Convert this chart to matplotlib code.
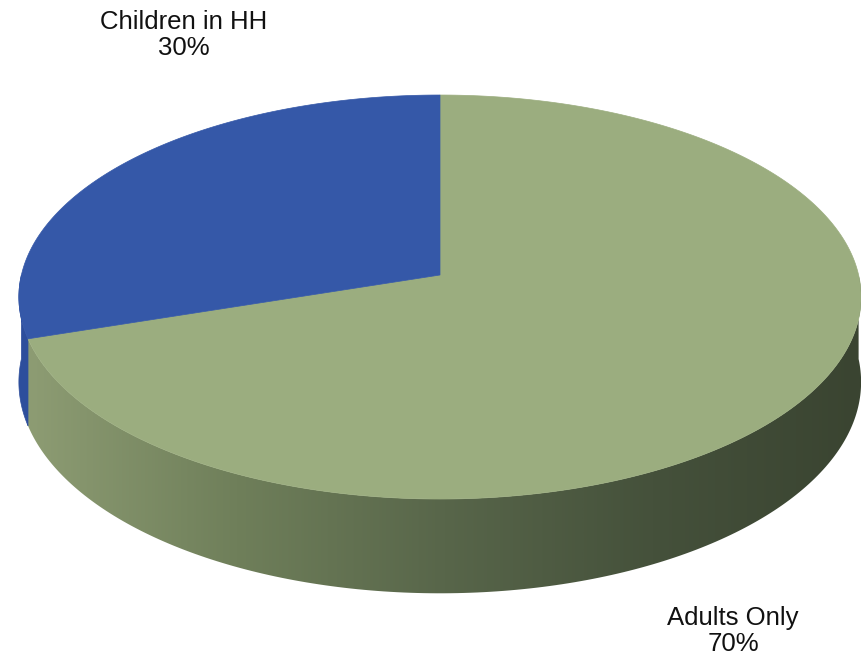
"""Camembert 3D façon Excel : ménages avec / sans enfants."""

import numpy as np
import matplotlib.pyplot as plt
from matplotlib.patches import Polygon
from matplotlib.colors import LinearSegmentedColormap

# Données (ordre Excel : départ à midi, sens horaire)
categories = ["Adults Only", "Children in HH"]
values = [70, 30]

COULEURS_DESSUS = ["#9bad7f", "#3558a8"]
COULEUR_COTE_BLEU = "#2d4e9c"
DEGRADE_VERT = ["#8d9c73", "#6f7f5a", "#58664a", "#45513b", "#3a4431"]

# Projection en perspective du disque (pixels)
CX, CY = 440, 275
SU, SV = 418.6, 199.6
M = 0.109
EPAISSEUR = 84


def projeter(phi, chute=0.0):
    w = 1 + M * np.sin(phi)
    x = CX + SU * np.cos(phi) / w
    y = CY - SV * np.sin(phi) / w + chute / w
    return x, y


fig = plt.figure(figsize=(8.61, 6.58), dpi=100)
ax = fig.add_axes([0, 0, 1, 1])
ax.set_xlim(0, 861)
ax.set_ylim(658, 0)
ax.axis("off")

total = sum(values)
bornes = []
debut = 90.0
for v in values:
    fin = debut - 360.0 * v / total
    bornes.append((fin, debut))
    debut = fin

# Côtés visibles (moitié avant : -180° à 0°)
for i, (lo, hi) in enumerate(bornes):
    a, b = max(lo, -180.0), min(hi, 0.0)
    if b <= a:
        continue
    phis = np.radians(np.linspace(a, b, 200))
    xt, yt = projeter(phis)
    xb, yb = projeter(phis[::-1], EPAISSEUR)
    pts = np.column_stack([np.concatenate([xt, xb]), np.concatenate([yt, yb])])
    if i == 0:
        poly = Polygon(pts, closed=True, facecolor="none", edgecolor="none")
        ax.add_patch(poly)
        cmap = LinearSegmentedColormap.from_list("cote", DEGRADE_VERT)
        grad = np.linspace(0, 1, 512).reshape(1, -1)
        im = ax.imshow(grad, cmap=cmap, aspect="auto",
                       extent=(pts[:, 0].min(), pts[:, 0].max(), 620, 260))
        im.set_clip_path(poly)
    else:
        ax.add_patch(Polygon(pts, closed=True, facecolor=COULEUR_COTE_BLEU,
                             edgecolor=COULEUR_COTE_BLEU, linewidth=0.5))

# Dessus des parts
for (lo, hi), couleur in zip(bornes, COULEURS_DESSUS):
    phis = np.radians(np.linspace(lo, hi, 400))
    xs, ys = projeter(phis)
    pts = np.column_stack([np.concatenate([[CX], xs]), np.concatenate([[CY], ys])])
    ax.add_patch(Polygon(pts, closed=True, facecolor=couleur,
                         edgecolor=couleur, linewidth=0.5))

# Étiquettes
positions = [(733, 631), (184, 35)]
for cat, v, (x, y) in zip(categories, values, positions):
    ax.text(x, y, f"{cat}\n{round(100 * v / total)}%", ha="center", va="center",
            fontsize=18.5, family="Liberation Sans", linespacing=1.15, color="#111111")

fig.savefig("out.png", dpi=100)
